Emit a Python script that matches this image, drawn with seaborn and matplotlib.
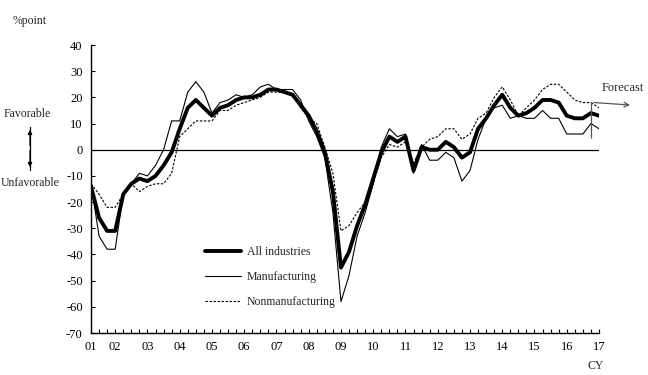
import numpy as np
import pandas as pd
import seaborn as sns
import matplotlib.pyplot as plt

# quarterly DI, Jun 2001 .. Mar 2017 (last point = forecast)
all_industries = [-14, -26, -31, -31, -17, -13, -11, -12, -10, -6, -1, 8, 16, 19, 16, 13,
                  16, 17, 19, 20, 20, 21, 23, 23, 22, 21, 17, 13, 7, -1, -16, -45,
                  -39, -29, -21, -11, -1, 5, 3, 5, -8, 1, 0, 0, 3, 1, -3, -1,
                  8, 12, 17, 21, 16, 13, 14, 16, 19, 19, 18, 13, 12, 12, 14, 13]
manufacturing = [-13, -33, -38, -38, -17, -13, -9, -10, -6, 0, 11, 11, 22, 26, 22, 14,
                 18, 19, 21, 20, 21, 24, 25, 23, 23, 23, 19, 11, 5, -3, -24, -58,
                 -48, -33, -24, -13, 1, 8, 5, 6, -9, 2, -4, -4, -1, -3, -12, -8,
                 4, 12, 16, 17, 12, 13, 12, 12, 15, 12, 12, 6, 6, 6, 10, 8]
nonmanufacturing = [-13, -17, -22, -22, -17, -13, -16, -14, -13, -13, -9, 5, 8, 11, 11, 11,
                    15, 15, 17, 18, 19, 20, 22, 22, 22, 21, 16, 12, 10, 1, -9, -31,
                    -29, -24, -20, -13, -3, 2, 1, 3, -5, 1, 4, 5, 8, 8, 4, 6,
                    12, 14, 20, 24, 19, 13, 16, 19, 23, 25, 25, 22, 19, 18, 18, 16]
year_labels = ['01', '02', '03', '04', '05', '06', '07', '08', '09',
               '10', '11', '12', '13', '14', '15', '16', '17']

quarters = np.arange(len(all_industries))
year_pos = [0] + [3 + 4 * k for k in range(len(year_labels) - 1)]
forecast_at = len(quarters) - 2

sns.set_style("ticks")
plt.rcParams['font.family'] = ['Liberation Serif', 'DejaVu Serif']
plt.rcParams['font.size'] = 8.5
plt.rcParams['axes.unicode_minus'] = False

fig = plt.figure(figsize=(6.48, 3.75), dpi=100)
ax = fig.add_axes([91 / 648, 1 - 333 / 375, 508 / 648, 288 / 375])

sns.lineplot(x=quarters, y=manufacturing, ax=ax, color='black', lw=0.8,
             label='Manufacturing')
sns.lineplot(x=quarters, y=nonmanufacturing, ax=ax, color='black', lw=0.8,
             linestyle=(0, (2.2, 1.4)), label='Nonmanufacturing')
sns.lineplot(x=quarters, y=all_industries, ax=ax, color='black', lw=2.8,
             label='All industries')

ax.axhline(0, color='black', lw=0.9, zorder=1)
ax.set_xlim(0, len(quarters) - 1)
ax.set_ylim(-70, 40)
ax.set_yticks(range(-70, 41, 10))
ax.set_xticks(year_pos, year_labels)
ax.set_xticks(quarters, minor=True)
ax.tick_params(axis='both', which='both', direction='in', length=3.2, width=0.8,
               colors='black', labelsize=9)
ax.tick_params(axis='x', pad=6)
ax.tick_params(axis='y', pad=6)
ax.spines[['top', 'right']].set_visible(False)
for s in ['left', 'bottom']:
    ax.spines[s].set_linewidth(1.0)
    ax.spines[s].set_color('black')
ax.set_xlabel('')
ax.set_ylabel('')

# forecast marker
ax.vlines(forecast_at, 4.5, 18.3, color='#555555', lw=0.9)
ax.annotate('', xy=(67.2, 17.0), xytext=(forecast_at, 18.1),
            arrowprops=dict(arrowstyle='->', color='#555555', lw=0.9),
            annotation_clip=False)
fig.text(602 / 648, 1 - 88 / 375, 'Forecast', va='center', ha='left', fontsize=9)

handles, labels = ax.get_legend_handles_labels()
order = [2, 0, 1]
ax.legend([handles[i] for i in order], [labels[i] for i in order],
          loc='upper left', bbox_to_anchor=(199 / 648, 1 - 240 / 375),
          bbox_transform=fig.transFigure, frameon=False, borderpad=0,
          handlelength=3.1, handletextpad=0.45, labelspacing=1.1, fontsize=8.5)

fig.text(13 / 648, 1 - 21 / 375, '%point', va='center', ha='left')
fig.text(27 / 648, 1 - 114 / 375, 'Favorable', va='center', ha='center')
fig.text(30 / 648, 1 - 183 / 375, 'Unfavorable', va='center', ha='center')
fig.text(596 / 648, 1 - 366 / 375, 'CY', va='center', ha='center')
fig.add_artist(plt.Line2D([30 / 648, 30 / 648], [1 - 170 / 375, 1 - 127 / 375],
                          color='black', lw=0.9))
fig.patches.append(plt.matplotlib.patches.FancyArrowPatch(
    (30 / 648, 1 - 148 / 375), (30 / 648, 1 - 127 / 375), transform=fig.transFigure,
    arrowstyle='-|>', mutation_scale=6, color='black', lw=0.9))
fig.patches.append(plt.matplotlib.patches.FancyArrowPatch(
    (30 / 648, 1 - 148 / 375), (30 / 648, 1 - 170 / 375), transform=fig.transFigure,
    arrowstyle='-|>', mutation_scale=6, color='black', lw=0.9))

fig.savefig('out.png', dpi=100)
